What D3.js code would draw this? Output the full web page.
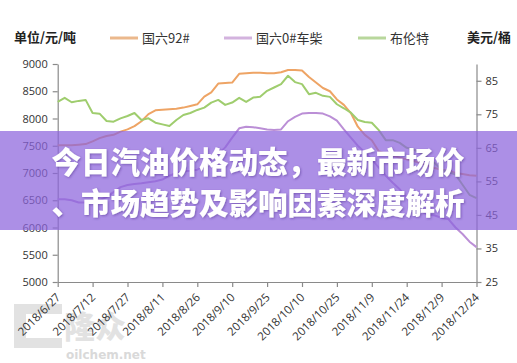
<!DOCTYPE html>
<html><head><meta charset="utf-8">
<script src="https://cdn.jsdelivr.net/npm/d3@7"></script>
<style>
html,body{margin:0;padding:0;background:#fff;}
svg{display:block;}
</style></head>
<body><svg id="c" width="517" height="363"></svg>
<script>
const dates = ["2018-06-27","2018-06-30","2018-07-03","2018-07-06","2018-07-09","2018-07-12","2018-07-15","2018-07-18","2018-07-21","2018-07-24","2018-07-27","2018-07-30","2018-08-02","2018-08-05","2018-08-08","2018-08-11","2018-08-14","2018-08-17","2018-08-20","2018-08-23","2018-08-26","2018-08-29","2018-09-01","2018-09-04","2018-09-07","2018-09-10","2018-09-13","2018-09-16","2018-09-19","2018-09-22","2018-09-25","2018-09-28","2018-10-01","2018-10-04","2018-10-07","2018-10-10","2018-10-13","2018-10-16","2018-10-19","2018-10-22","2018-10-25","2018-10-28","2018-10-31","2018-11-03","2018-11-06","2018-11-09","2018-11-12","2018-11-15","2018-11-18","2018-11-21","2018-11-24","2018-11-27","2018-11-30","2018-12-03","2018-12-06","2018-12-09","2018-12-12","2018-12-15","2018-12-18","2018-12-21","2018-12-24"];
const gasoline92 = [7510,7510,7510,7520,7530,7580,7640,7680,7700,7760,7800,7860,7950,8080,8150,8160,8170,8180,8200,8230,8260,8400,8480,8640,8650,8660,8820,8830,8840,8840,8830,8830,8850,8890,8890,8880,8760,8660,8560,8500,8350,8250,8100,7850,7700,7600,7400,7350,7320,7280,7250,7220,7180,7130,7090,7060,7040,7000,6980,6960,6950];
const diesel0 = [6520,6520,6500,6460,6460,6470,6500,6560,6650,6740,6780,6800,6810,6830,6850,6880,6950,7000,7030,7040,7060,7150,7250,7350,7470,7650,7820,7850,7840,7820,7800,7790,7800,7950,8030,8090,8100,8100,8090,8040,7960,7800,7650,7500,7380,7250,7100,6950,6820,6700,6550,6400,6300,6240,6220,6180,6150,6000,5880,5740,5640];
const brent = [78.7,79.9,78.6,79.0,79.3,75.4,75.2,73.0,72.8,73.8,74.5,75.4,73.3,73.8,72.5,72.0,71.5,73.3,74.8,75.4,76.3,77.0,78.5,79.3,77.8,78.5,79.9,78.7,80.0,80.2,82.0,83.0,84.0,86.5,84.6,84.0,81.0,81.4,80.5,80.2,78.0,76.8,75.5,73.3,72.7,72.5,70.3,67.3,67.3,66.5,65.0,64.5,63.5,62.0,60.5,58.4,57.8,57.0,54.0,51.0,50.0];
const xTickLabels = ["2018-06-27","2018-07-12","2018-07-27","2018-08-11","2018-08-26","2018-09-10","2018-09-25","2018-10-10","2018-10-25","2018-11-09","2018-11-24","2018-12-09","2018-12-24"];
const leftTicks = [5000,5500,6000,6500,7000,7500,8000,8500,9000];
const rightTicks = [25,35,45,55,65,75,85];
const seriesNames = ["国六92#","国六0#车柴","布伦特"];
const leftUnit = "单位/元/吨", rightUnit = "美元/桶";
const bannerLines = ["今日汽油价格动态，最新市场价","、市场趋势及影响因素深度解析"];

const parse = d3.timeParse("%Y-%m-%d");
const fmt = d3.timeFormat("%Y/%-m/%-d");
const svg = d3.select("#c");
const X0 = 57.7, X1 = 476.5, Y0 = 282, Y1 = 64;
const x = d3.scaleTime().domain([parse(dates[0]), parse(dates[dates.length-1])]).range([X0, X1]);
const yL = d3.scaleLinear().domain([5000,9000]).range([Y0,Y1]);
const yR = d3.scaleLinear().domain([25,90]).range([Y0,Y1]);

// watermark
const wm = svg.append("g");
wm.append("path").attr("d","M14,304 h48 v10 h-36 v24 h36 v10 h-48 z").attr("fill","#e2e2e2");
wm.append("text").attr("x",64).attr("y",338).text("隆众").attr("font-family","Noto Sans CJK SC").attr("font-weight","900").attr("font-size",31).attr("fill","#e2e2e2");
wm.append("text").attr("x",66).attr("y",359).text("oilchem.net").attr("font-family","DejaVu Sans").attr("font-weight","bold").attr("font-size",12).attr("fill","#d9d9d9");

// axes
const axisCol = "#8a8a8a", txtCol = "#333";
const gx = svg.append("g").attr("transform",`translate(0,${Y0})`)
  .call(d3.axisBottom(x).tickValues(xTickLabels.map(parse)).tickFormat(fmt).tickSize(5).tickSizeOuter(0));
gx.selectAll("text").attr("text-anchor","end").attr("transform",function(d){return `translate(3,13) rotate(-45)`;})
  .attr("dy","0").attr("y",0).attr("x",0);
gx.selectAll("text").each(function(d){ d3.select(this).attr("transform",`translate(${3},${16}) rotate(-45)`); });

const gl = svg.append("g").attr("transform",`translate(${X0},0)`)
  .call(d3.axisLeft(yL).tickValues(leftTicks).tickFormat(d3.format("d")).tickSize(5).tickSizeOuter(0).tickPadding(5));
const gr = svg.append("g").attr("transform",`translate(${X1},0)`)
  .call(d3.axisRight(yR).tickValues(rightTicks).tickFormat(d3.format("d")).tickSize(5).tickSizeOuter(0).tickPadding(4));
[gx,gl,gr].forEach(g=>{
  g.select(".domain").attr("stroke",axisCol).attr("stroke-width",1.2);
  g.selectAll(".tick line").attr("stroke",axisCol).attr("stroke-width",1.2);
  g.selectAll("text").attr("fill",txtCol).attr("font-family","Open Sans").attr("font-size",11);
});
gx.selectAll("text").attr("font-size",11.5);

// lines
const pts = dates.map(parse);
const mk = (vals, ys) => d3.line().x((d,i)=>x(pts[i])).y(d=>ys(d))(vals);
const lines = [
  {vals: gasoline92, ys: yL, col: "#eea465"},
  {vals: diesel0, ys: yL, col: "#bb8fd6"},
  {vals: brent, ys: yR, col: "#9fcd6e"}
];
lines.forEach(s=>{
  svg.append("path").attr("d",mk(s.vals,s.ys)).attr("fill","none").attr("stroke",s.col).attr("stroke-width",2).attr("stroke-linejoin","round");
});

// legend
const cjk = "Noto Sans CJK SC";
svg.append("text").attr("x",14).attr("y",42).text(leftUnit).attr("font-family",cjk).attr("font-weight","bold").attr("font-size",13).attr("fill","#222");
svg.append("text").attr("x",467).attr("y",42).text(rightUnit).attr("font-family",cjk).attr("font-weight","bold").attr("font-size",13).attr("fill","#222");
const legCols = ["#ebb88c","#d3b3de","#b8d79c"];
const legX = [110,224,358];
seriesNames.forEach((n,i)=>{
  svg.append("line").attr("x1",legX[i]).attr("x2",legX[i]+28).attr("y1",38).attr("y2",38).attr("stroke",legCols[i]).attr("stroke-width",3);
  svg.append("text").attr("x",legX[i]+32).attr("y",42.5).text(n).attr("font-family",cjk).attr("font-size",13).attr("fill","#333");
});

// banner overlay
const defs = svg.append("defs");
const f = defs.append("filter").attr("id","sh").attr("x","-5%").attr("y","-20%").attr("width","110%").attr("height","140%");
f.append("feDropShadow").attr("dx",1).attr("dy",1).attr("stdDeviation",1).attr("flood-color","#4a2a8a").attr("flood-opacity",0.5);
svg.append("rect").attr("x",0).attr("y",131).attr("width",517).attr("height",99).attr("fill","rgb(140,100,220)").attr("fill-opacity",0.72);
bannerLines.forEach((t,i)=>{
  svg.append("text").attr("x",258).attr("y",i===0?173:214).attr("text-anchor","middle").text(t)
    .attr("font-family",cjk).attr("font-weight",900).attr("font-size",29.5).attr("fill","#fff").attr("filter","url(#sh)");
});
</script></body></html>
